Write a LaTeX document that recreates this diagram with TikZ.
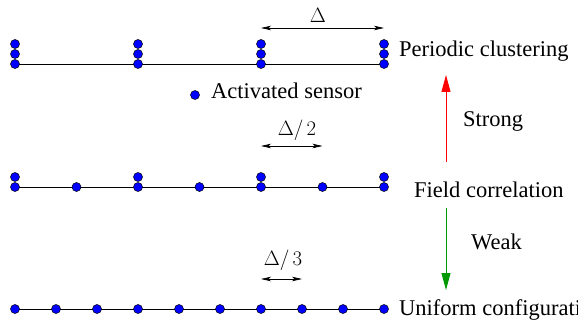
\documentclass[tikz,border=0pt]{standalone}
\usepackage{fontspec}
\setmainfont{Liberation Serif}
\usetikzlibrary{arrows.meta,backgrounds}
\begin{document}
\begin{tikzpicture}[x=1pt,y=-1pt,
  sensor/.style={circle,draw=black,line width=0.5pt,fill=blue,inner sep=0pt,minimum size=9pt},
  baseline/.style={line width=0.9pt},
  span/.style={line width=0.7pt,{Stealth[length=10pt,width=4.5pt,inset=2.5pt]}-{Stealth[length=10pt,width=4.5pt,inset=2.5pt]}},
  trend/.style={line width=0.9pt,-{Triangle[length=17pt,width=9pt]}},
  lbl/.style={font=\fontsize{22.5}{25}\selectfont,inner sep=0pt,anchor=base west},
  dlbl/.style={font=\fontsize{22.5}{25}\selectfont,inner sep=0pt}]
\useasboundingbox (0,0) rectangle (578,326);

% periodic clustering: three sensors stacked every 123pt
\foreach \i/\x in {1/15,2/138,3/261,4/384}{
  \node[sensor] (pa\i) at (\x,64) {};
  \node[sensor] (pb\i) at (\x,54) {};
  \node[sensor] (pc\i) at (\x,44) {};
}
\begin{scope}[on background layer]
  \draw[baseline] (pa1.center) -- (pa4.center);
\end{scope}
\coordinate (dl) at (261,28);
\coordinate (dr) at (384,28);
\draw[span] (dl) -- (dr);
\node[dlbl] (dtxt) at (318,15) {$\Delta$};
\node[lbl] (per) at (399,57) {Periodic clustering};

% legend
\node[sensor] (leg) at (195,95) {};
\node[lbl] (legt) at (211,99) {Activated sensor};

% field correlation: alternating two and one sensors
\foreach \i/\x in {1/15,2/76.5,3/138,4/199.5,5/261,6/322.5,7/384}{
  \node[sensor] (fa\i) at (\x,187) {};
}
\foreach \i/\x in {1/15,3/138,5/261,7/384}{
  \node[sensor] (fb\i) at (\x,177) {};
}
\begin{scope}[on background layer]
  \draw[baseline] (fa1.center) -- (fa7.center);
\end{scope}
\coordinate (hl) at (261,146);
\coordinate (hr) at (322.5,146);
\draw[span] (hl) -- (hr);
\node[dlbl] (htxt) at (297,130) {$\Delta/\,2$};
\node[lbl] (fld) at (414,197) {Field correlation};

% uniform configuration
\foreach \i/\x in {1/15,2/56,3/97,4/138,5/179,6/220,7/261,8/302,9/343,10/384}{
  \node[sensor] (ua\i) at (\x,309) {};
}
\begin{scope}[on background layer]
  \draw[baseline] (ua1.center) -- (ua10.center);
\end{scope}
\coordinate (tl) at (261,279);
\coordinate (tr) at (302,279);
\draw[span] (tl) -- (tr);
\node[dlbl] (ttxt) at (283,260) {$\Delta/\,3$};
\node[lbl] (uni) at (399,315) {Uniform configuration};

% correlation strength
\coordinate (rs) at (446,162);
\coordinate (re) at (446,75);
\draw[trend,red] (rs) -- (re);
\node[lbl] (str) at (463,127) {Strong};
\coordinate (gs) at (446,208);
\coordinate (ge) at (446,290);
\draw[trend,green!60!black] (gs) -- (ge);
\node[lbl] (wk) at (471,249) {Weak};
\end{tikzpicture}
\end{document}
